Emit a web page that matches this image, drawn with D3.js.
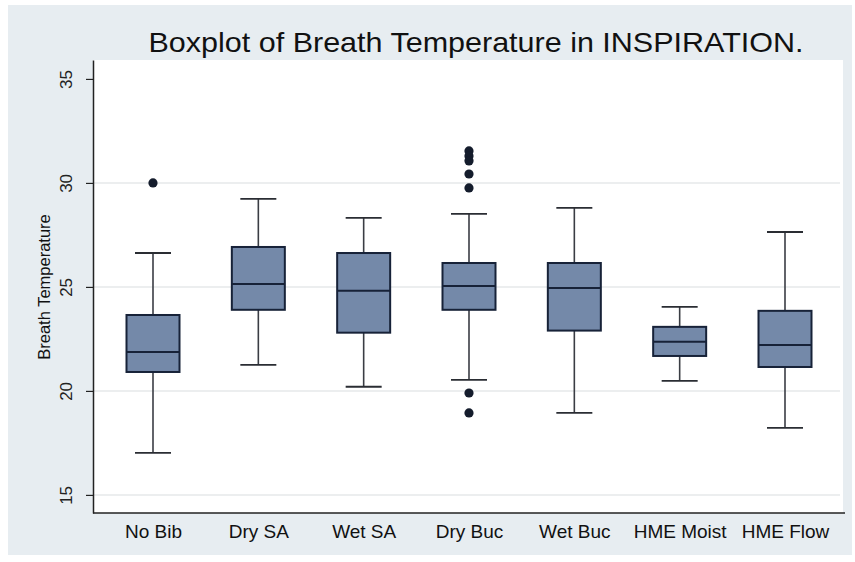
<!DOCTYPE html>
<html>
<head>
<meta charset="utf-8">
<script src="https://cdn.jsdelivr.net/npm/d3@7"></script>
<style>
  body { margin: 0; background: #fff; }
  text { font-family: "Liberation Sans", Arial, sans-serif; }
</style>
</head>
<body>
<svg id="chart" width="855" height="562"></svg>
<script>
// values
var groups = ["No Bib", "Dry SA", "Wet SA", "Dry Buc", "Wet Buc", "HME Moist", "HME Flow"];
var whiskerLow  = [17.02, 21.25, 20.2, 20.53, 18.94, 20.48, 18.22];
var q1          = [20.91, 23.9, 22.8, 23.9, 22.9, 21.68, 21.15];
var median      = [21.87, 25.14, 24.81, 25.05, 24.95, 22.36, 22.21];
var q3          = [23.65, 26.92, 26.63, 26.15, 26.15, 23.08, 23.85];
var whiskerHigh = [26.63, 29.23, 28.32, 28.51, 28.8, 24.04, 27.64];
var outliers = [
  [30.0],
  [],
  [],
  [31.54, 31.3, 31.06, 30.43, 29.76, 19.9, 18.94],
  [],
  [],
  []
];
var yTicks = [15, 20, 25, 30, 35];
var gridTicks = [15, 20, 25, 30];

var svg = d3.select("#chart");

// outer graph region
svg.append("rect")
  .attr("x", 8).attr("y", 5)
  .attr("width", 844).attr("height", 550)
  .attr("fill", "#e7edf1");

const plot = { left: 93, right: 845, top: 60, bottom: 513 };

svg.append("rect")
  .attr("x", plot.left).attr("y", plot.top)
  .attr("width", plot.right - plot.left - 2).attr("height", plot.bottom - plot.top)
  .attr("fill", "#ffffff");

var y = d3.scaleLinear().domain([14.13, 35.91]).range([plot.bottom, plot.top]);
var x = d3.scalePoint().domain(groups).range([153, 785]);

// grid lines
svg.append("g").selectAll("line")
  .data(gridTicks)
  .enter()
  .append("line")
  .attr("x1", plot.left + 1).attr("x2", plot.right - 5)
  .attr("y1", d => y(d)).attr("y2", d => y(d))
  .attr("stroke", "#e6e8ea")
  .attr("stroke-width", 1.5);

// y axis
var yAxis = svg.append("g")
  .attr("transform", "translate(" + plot.left + ",0)")
  .call(d3.axisLeft(y).tickValues(yTicks).tickSize(7).tickSizeOuter(0));
yAxis.select(".domain").attr("stroke", "#222").attr("stroke-width", 1.5);
yAxis.selectAll(".tick line").attr("stroke", "#222").attr("stroke-width", 1.2);
yAxis.selectAll(".tick text")
  .attr("font-size", 17)
  .attr("fill", "#222")
  .attr("text-anchor", "middle")
  .attr("x", 0)
  .attr("y", 0)
  .attr("dy", "0.35em")
  .attr("transform", "translate(-27,0) rotate(-90)");

// x axis
var xAxis = svg.append("g")
  .attr("transform", "translate(0," + plot.bottom + ")")
  .call(d3.axisBottom(x).tickSize(0).tickPadding(10));
xAxis.select(".domain")
  .attr("d", "M" + plot.left + ",0H" + plot.right)
  .attr("stroke", "#222").attr("stroke-width", 1.5);
xAxis.selectAll(".tick text")
  .attr("font-size", 19)
  .attr("fill", "#111")
  .attr("dy", "0.8em");

// boxes
var boxW = 53, capW = 36;
var boxes = svg.append("g").selectAll("g")
  .data(groups)
  .enter()
  .append("g")
  .attr("transform", d => "translate(" + x(d) + ",0)");

boxes.append("line")
  .attr("x1", 0).attr("x2", 0)
  .attr("y1", (d, i) => y(whiskerHigh[i])).attr("y2", (d, i) => y(q3[i]))
  .attr("stroke", "#3a3d44").attr("stroke-width", 1.6);
boxes.append("line")
  .attr("x1", 0).attr("x2", 0)
  .attr("y1", (d, i) => y(q1[i])).attr("y2", (d, i) => y(whiskerLow[i]))
  .attr("stroke", "#3a3d44").attr("stroke-width", 1.6);
boxes.append("line")
  .attr("x1", -capW / 2).attr("x2", capW / 2)
  .attr("y1", (d, i) => y(whiskerHigh[i])).attr("y2", (d, i) => y(whiskerHigh[i]))
  .attr("stroke", "#2a2d33").attr("stroke-width", 1.8);
boxes.append("line")
  .attr("x1", -capW / 2).attr("x2", capW / 2)
  .attr("y1", (d, i) => y(whiskerLow[i])).attr("y2", (d, i) => y(whiskerLow[i]))
  .attr("stroke", "#2a2d33").attr("stroke-width", 1.8);
boxes.append("rect")
  .attr("x", -boxW / 2).attr("width", boxW)
  .attr("y", (d, i) => y(q3[i]))
  .attr("height", (d, i) => y(q1[i]) - y(q3[i]))
  .attr("fill", "#7489a9")
  .attr("stroke", "#172238").attr("stroke-width", 2);
boxes.append("line")
  .attr("x1", -boxW / 2).attr("x2", boxW / 2)
  .attr("y1", (d, i) => y(median[i])).attr("y2", (d, i) => y(median[i]))
  .attr("stroke", "#172238").attr("stroke-width", 2);

boxes.selectAll("circle")
  .data((d, i) => outliers[i])
  .enter()
  .append("circle")
  .attr("cx", 0)
  .attr("cy", d => y(d))
  .attr("r", 4.6)
  .attr("fill", "#141c2c");

// titles
svg.append("text")
  .attr("x", 476).attr("y", 52)
  .attr("text-anchor", "middle")
  .attr("font-size", 28)
  .attr("textLength", 655)
  .attr("lengthAdjust", "spacingAndGlyphs")
  .attr("fill", "#111")
  .text("Boxplot of Breath Temperature in INSPIRATION.");

svg.append("text")
  .attr("transform", "translate(50,287) rotate(-90)")
  .attr("text-anchor", "middle")
  .attr("font-size", 16.5)
  .attr("fill", "#111")
  .text("Breath Temperature");
</script>
</body>
</html>
